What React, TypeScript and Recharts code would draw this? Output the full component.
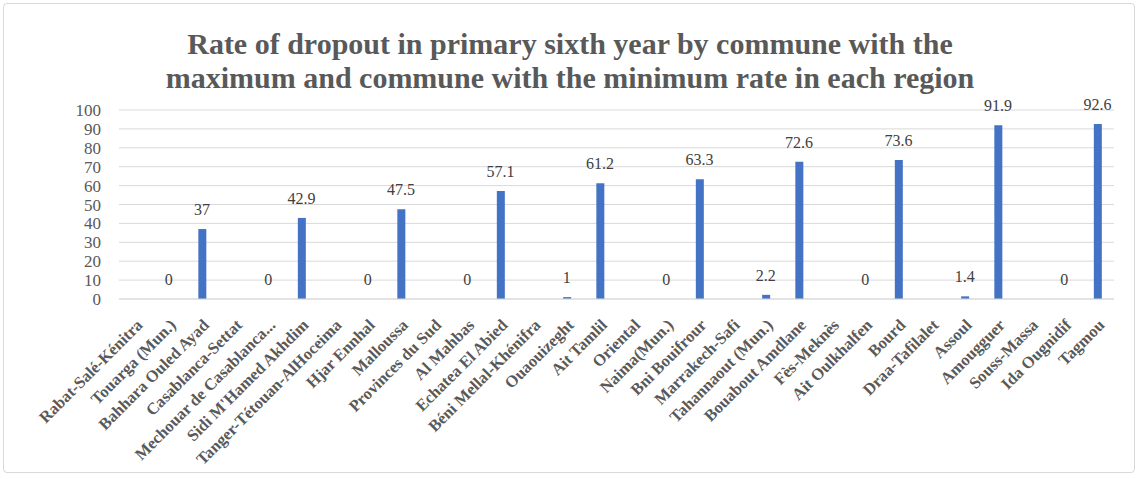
import React from "react";
import { ComposedChart, Bar, Line, XAxis, YAxis, CartesianGrid, LabelList } from "recharts";

const categories = [
  "Rabat-Salé-Kénitra", "Touarga (Mun.)", "Bahhara Ouled Ayad",
  "Casablanca-Settat", "Mechouar de Casablanca...", "Sidi M'Hamed Akhdim",
  "Tanger-Tétouan-AlHoceima", "Hjar Ennhal", "Malloussa",
  "Provinces du Sud", "Al Mahbas", "Echatea El Abied",
  "Béni Mellal-Khénifra", "Ouaouizeght", "Ait Tamlil",
  "Oriental", "Naima(Mun.)", "Bni Bouifrour",
  "Marrakech-Safi", "Tahannaout (Mun.)", "Bouabout Amdlane",
  "Fès-Meknès", "Ait Oulkhalfen", "Bourd",
  "Draa-Tafilalet", "Assoul", "Amougguer",
  "Souss-Massa", "Ida Ougnidif", "Tagmou",
];

const rates: (number | null)[] = [
  null, 0, 37,
  null, 0, 42.9,
  null, 0, 47.5,
  null, 0, 57.1,
  null, 1, 61.2,
  null, 0, 63.3,
  null, 2.2, 72.6,
  null, 0, 73.6,
  null, 1.4, 91.9,
  null, 0, 92.6,
];

const yTicks = [0, 10, 20, 30, 40, 50, 60, 70, 80, 90, 100];

const titleLines = [
  "Rate of dropout in primary sixth year by commune with the",
  "maximum and commune with the minimum rate in each region",
];

const data = categories.map((name, i) => ({ name, rate: rates[i] }));

const FONT = "'Liberation Serif', 'Times New Roman', serif";

const XTick = (props: any) => {
  const { x, y, payload } = props;
  return (
    <g transform={`translate(${x + 4},${y + 15}) rotate(-45)`}>
      <text
        x={0}
        y={0}
        dy="0.35em"
        textAnchor="end"
        fill="#595959"
        fontFamily={FONT}
        fontWeight="bold"
        fontSize={16.5}
      >
        {payload.value}
      </text>
    </g>
  );
};

const PointLabel = (props: any) => {
  const { x, y, value } = props;
  if (value === null || value === undefined || y === null || y === undefined) return null;
  return (
    <text
      x={x}
      y={y - 14}
      textAnchor="middle"
      fill="#404040"
      fontFamily={FONT}
      fontSize={16}
    >
      {value}
    </text>
  );
};

export default function App() {
  return (
    <div
      style={{
        position: "absolute",
        left: 0,
        top: 0,
        width: 1140,
        height: 479,
        background: "#fff",
      }}
    >
      <div
        style={{
          position: "absolute",
          left: 3,
          top: 3,
          width: 1132,
          height: 470,
          border: "1px solid #d9d9d9",
          borderRadius: 4,
          boxSizing: "border-box",
        }}
      />
      <div
        style={{
          position: "absolute",
          left: 0,
          top: 27,
          width: 1140,
          textAlign: "center",
          fontFamily: FONT,
          fontWeight: "bold",
          fontSize: 30,
          lineHeight: "34px",
          color: "#595959",
        }}
      >
        {titleLines.map((l) => (
          <div key={l}>{l}</div>
        ))}
      </div>
      <div style={{ position: "absolute", left: 0, top: 0 }}>
        <ComposedChart
          width={1140}
          height={479}
          data={data}
          margin={{ top: 110, right: 26, bottom: 0, left: 0 }}
        >
          <CartesianGrid vertical={false} stroke="#d9d9d9" />
          <XAxis
            dataKey="name"
            interval={0}
            height={180}
            tickLine={false}
            axisLine={{ stroke: "#d9d9d9" }}
            tick={<XTick />}
          />
          <YAxis
            domain={[0, 100]}
            ticks={yTicks}
            interval={0}
            width={119}
            tickLine={false}
            axisLine={false}
            tickMargin={12}
            tick={{ fill: "#595959", fontFamily: FONT, fontSize: 17 }}
          />
          <Bar dataKey="rate" fill="#4472C4" barSize={8} isAnimationActive={false} />
          <Line
            dataKey="rate"
            stroke="none"
            dot={false}
            activeDot={false}
            legendType="none"
            isAnimationActive={false}
          >
            <LabelList dataKey="rate" content={<PointLabel />} />
          </Line>
        </ComposedChart>
      </div>
    </div>
  );
}
